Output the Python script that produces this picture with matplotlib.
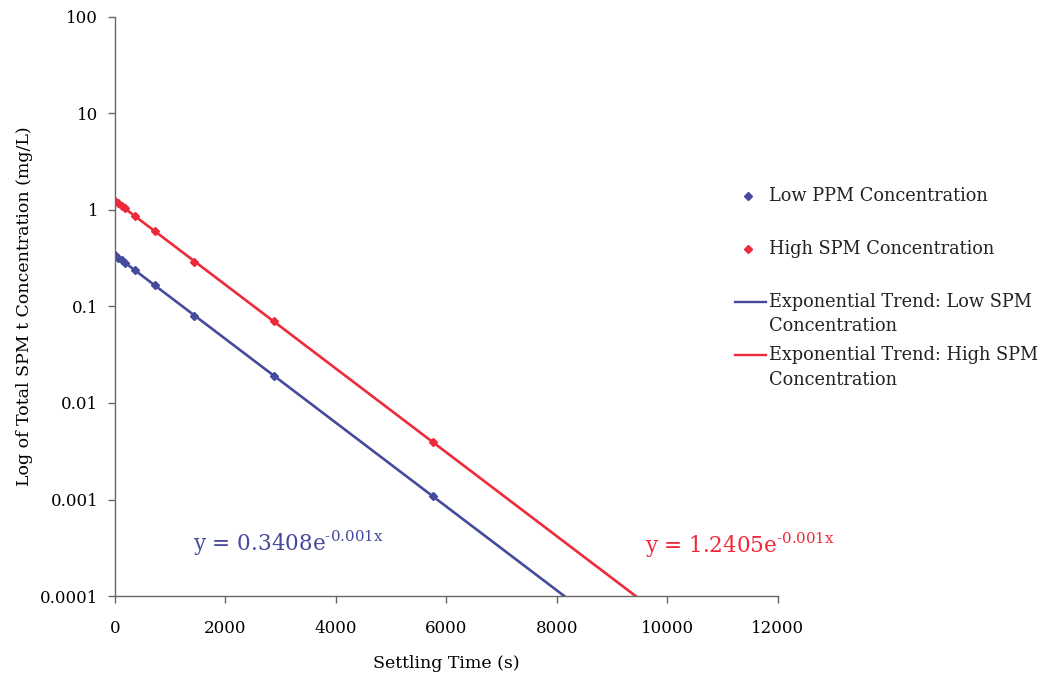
import numpy as np
import matplotlib
matplotlib.use('Agg')
import matplotlib.pyplot as plt
from matplotlib.lines import Line2D

# sampled settling times (s) and measured concentrations (mg/L)
time_s = [0, 60, 120, 180, 360, 720, 1440, 2880, 5760]
low_spm = [0.34, 0.32, 0.30, 0.285, 0.237, 0.165, 0.080, 0.019, 0.0011]
high_spm = [1.24, 1.17, 1.10, 1.04, 0.865, 0.60, 0.29, 0.070, 0.0039]

# fitted exponential trends y = a * exp(-k x), as printed on the chart
low_a, high_a, rate_k = 0.3408, 1.2405, 0.001

y_ticks = [1e-4, 1e-3, 1e-2, 1e-1, 1, 10, 100]
y_tick_labels = ['0.0001', '0.001', '0.01', '0.1', '1', '10', '100']
x_ticks = [0, 2000, 4000, 6000, 8000, 10000, 12000]

blue = '#464a9c'
red = '#ee2a3a'

plt.rcParams['font.family'] = ['DejaVu Serif']
plt.rcParams['mathtext.fontset'] = 'dejavuserif'

fig = plt.figure(figsize=(10.54, 6.76), dpi=100)
ax = fig.add_axes([0.109, 0.1183, 0.629, 0.8567])

trend_x = np.linspace(0, 12000, 400)
ax.plot(trend_x, low_a * np.exp(-rate_k * trend_x), color=blue, lw=1.9)
ax.plot(trend_x, high_a * np.exp(-rate_k * trend_x), color=red, lw=1.9)
ax.plot(time_s, low_spm, 'D', color=blue, ms=4.5, ls='none')
ax.plot(time_s, high_spm, 'D', color=red, ms=4.5, ls='none')

ax.set_yscale('log')
ax.set_ylim(1e-4, 100)
ax.set_xlim(0, 12000)
ax.set_yticks(y_ticks)
ax.set_yticklabels(y_tick_labels)
ax.minorticks_off()
ax.set_xticks(x_ticks)
ax.set_xticklabels([str(v) for v in x_ticks])

for s in ['top', 'right']:
    ax.spines[s].set_visible(False)
for s in ['left', 'bottom']:
    ax.spines[s].set_color('#666666')
    ax.spines[s].set_linewidth(1.0)
ax.tick_params(axis='y', length=5, width=1, color='#666666', pad=7, labelsize=12)
ax.tick_params(axis='x', length=5, width=1, color='#666666', pad=12, labelsize=12)

ax.set_xlabel('Settling Time (s)', fontsize=12.5, labelpad=13)
ax.set_ylabel('Log of Total SPM t Concentration (mg/L)', fontsize=12.5, labelpad=5)

ax.text(1412, 2.95e-4, r'y = 0.3408e$^{\mathrm{\text{-}0.001x}}$', color=blue,
        fontsize=15.5, va='baseline', ha='left')
ax.text(9593, 2.8e-4, r'y = 1.2405e$^{\mathrm{\text{-}0.001x}}$', color=red,
        fontsize=15.5, va='baseline', ha='left')

# legend, laid out like the original spreadsheet legend
W, H = 1054, 676
def fx(px):
    return px / W
def fy(py):
    return 1 - py / H

fig.add_artist(Line2D([fx(748)], [fy(196)], marker='D', ms=4, color=blue,
                      ls='none', transform=fig.transFigure))
fig.add_artist(Line2D([fx(748)], [fy(249)], marker='D', ms=4, color=red,
                      ls='none', transform=fig.transFigure))
fig.add_artist(Line2D([fx(735), fx(766)], [fy(302), fy(302)], color=blue,
                      lw=1.7, transform=fig.transFigure))
fig.add_artist(Line2D([fx(735), fx(766)], [fy(355), fy(355)], color=red,
                      lw=1.7, transform=fig.transFigure))

leg_rows = [
    ('Low PPM Concentration', 196),
    ('High SPM Concentration', 249),
    ('Exponential Trend: Low SPM', 302),
    ('Concentration', 326),
    ('Exponential Trend: High SPM', 355),
    ('Concentration', 380),
]
for label, py in leg_rows:
    fig.text(fx(769), fy(py), label, fontsize=12.8, va='center', ha='left',
             color='#222222')

fig.savefig('out.png', dpi=100)
